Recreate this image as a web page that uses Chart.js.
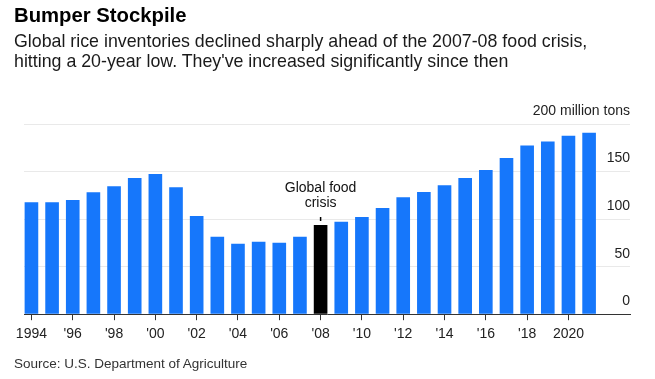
<!DOCTYPE html>
<html>
<head>
<meta charset="utf-8">
<script src="https://cdn.jsdelivr.net/npm/chart.js@4.4.1/dist/chart.umd.min.js"></script>
<style>
  html, body { margin: 0; padding: 0; background: #fff; }
  body { width: 655px; height: 379px; position: relative; overflow: hidden; font-family: "Liberation Sans", Arial, sans-serif; color: #111; }
  #chart { position: absolute; left: 0; top: 0; }
  .txt { position: absolute; left: 14px; white-space: nowrap; }
  #title { top: 3px; font-size: 20.3px; line-height: 24px; font-weight: bold; color: #000; }
  #subtitle { top: 30.6px; font-size: 17.8px; line-height: 20px; color: #1a1a1a; }
  #source { top: 356px; font-size: 13.5px; line-height: 16px; color: #333; }
</style>
</head>
<body>
<canvas id="chart" width="655" height="379"></canvas>
<div class="txt" id="title">Bumper Stockpile</div>
<div class="txt" id="subtitle">Global rice inventories declined sharply ahead of the 2007-08 food crisis,<br>hitting a 20-year low. They've increased significantly since then</div>
<div class="txt" id="source">Source: U.S. Department of Agriculture</div>
<script>
// global rice ending stocks, million tons
const years = [1994, 1995, 1996, 1997, 1998, 1999, 2000, 2001, 2002, 2003, 2004, 2005, 2006, 2007,
  2008, 2009, 2010, 2011, 2012, 2013, 2014, 2015, 2016, 2017, 2018, 2019, 2020, 2021];
const stocks = [117.8, 117.6, 120.2, 128.3, 134.6, 143.1, 147.3, 133.6, 103.3, 81.5, 74.1, 76.2, 75.2, 81.5,
  93.8, 97.3, 102.3, 111.8, 123.0, 128.6, 135.7, 143.1, 151.5, 164.2, 177.4, 181.7, 187.7, 190.8];
const tickYears = [1994, 1996, 1998, 2000, 2002, 2004, 2006, 2008, 2010, 2012, 2014, 2016, 2018, 2020];
const tickLabels = ['1994', "'96", "'98", "'00", "'02", "'04", "'06", "'08", "'10", "'12", "'14", "'16", "'18", '2020'];
const yTicks = [0, 50, 100, 150, 200];
const yTickLabels = ['0', '50', '100', '150', '200 million tons'];
const crisisYear = 2008;
const noteLines = ['Global food', 'crisis'];

const BLUE = '#1677fb';
const FONT = '"Liberation Sans", Arial, sans-serif';

// "Global food crisis" note over the black bar
const crisisNote = {
  id: 'crisisNote',
  afterDatasetsDraw(chart) {
    const x = chart.scales.x.getPixelForValue(crisisYear);
    const top = chart.scales.y.getPixelForValue(stocks[years.indexOf(crisisYear)]);
    const ctx = chart.ctx;
    ctx.save();
    ctx.strokeStyle = '#000';
    ctx.lineWidth = 1.5;
    ctx.beginPath();
    ctx.moveTo(x, top - 8);
    ctx.lineTo(x, top - 4);
    ctx.stroke();
    ctx.fillStyle = '#111';
    ctx.font = '14px ' + FONT;
    ctx.textAlign = 'center';
    ctx.textBaseline = 'alphabetic';
    ctx.fillText(noteLines[0], x, top - 33);
    ctx.fillText(noteLines[1], x, top - 18);
    ctx.restore();
  }
};

new Chart(document.getElementById('chart'), {
  type: 'bar',
  data: {
    datasets: [{
      data: years.map((y, i) => ({ x: y, y: stocks[i] })),
      backgroundColor: years.map(y => y === crisisYear ? '#000' : BLUE),
      barPercentage: 0.66,
      categoryPercentage: 1
    }]
  },
  options: {
    responsive: false,
    animation: false,
    devicePixelRatio: 1,
    layout: { padding: { left: 24, right: 25, top: 124, bottom: 30 } },
    plugins: { legend: { display: false }, tooltip: { enabled: false } },
    scales: {
      x: {
        type: 'linear',
        min: 1993.64,
        max: 2022.98,
        offset: false,
        afterBuildTicks: s => { s.ticks = tickYears.map(v => ({ value: v })); },
        ticks: {
          autoSkip: false, maxRotation: 0, padding: 6,
          color: '#222', font: { family: FONT, size: 14 },
          callback: (v, i) => tickLabels[i]
        },
        grid: { drawOnChartArea: false, offset: false, color: '#333', tickLength: 6 },
        border: { display: true, color: '#333', width: 1 }
      },
      y: {
        position: 'right',
        min: 0,
        max: 200,
        afterBuildTicks: s => { s.ticks = yTicks.map(v => ({ value: v })); },
        ticks: {
          mirror: true, padding: 0, labelOffset: -13,
          color: '#222', font: { family: FONT, size: 14 },
          callback: (v, i) => yTickLabels[i]
        },
        grid: { color: '#e9e9e9', drawTicks: false },
        border: { display: false }
      }
    }
  },
  plugins: [crisisNote]
});
</script>
</body>
</html>
